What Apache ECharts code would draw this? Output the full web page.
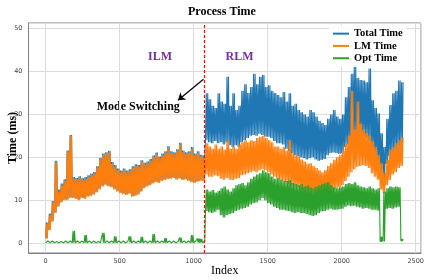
<!DOCTYPE html>
<html><head><meta charset="utf-8">
<script src="https://cdn.jsdelivr.net/npm/echarts@6/dist/echarts.min.js"></script>
<style>html,body{margin:0;padding:0;background:#fff}#c{width:429px;height:280px}</style>
</head><body><div id="c"></div>
<script>
// Values: low / high extent of each series in bins of 20 indices (index 0..2400)
const binStep = 20;
const seriesNames = ['Total Time', 'LM Time', 'Opt Time'];
const seriesColors = ['#1f77b4', '#ff7f0e', '#2ca02c'];

const totalLo = [1.2,3.2,5.2,7.2,8.7,9.7,10.2,10.2,10.7,10.7,10.5,10.2,10.7,10.5,11.0,11.2,11.5,12.0,12.7,13.4,13.7,13.4,13.2,12.7,12.2,11.8,11.6,11.4,11.7,11.0,11.2,11.5,12.2,13.0,13.4,13.7,14.1,14.4,14.2,14.7,14.9,15.1,15.2,15.4,15.0,15.2,14.9,15.0,14.7,14.4,14.2,14.5,14.7,14.7,
  24,23.5,23.3,23.8,23.3,23.5,23,23.5,22.8,22.4,22.8,22.4,23.5,24,24.5,25,25.2,25,25.5,25.2,24.8,24.8,24.5,23.8,23.3,23.3,23,22,21.5,21,20.5,20.3,20,19.8,19.5,19.8,20,19.5,19.2,19.4,19.6,20.5,21,21.1,21,20.8,21,22.4,23,23.5,24.5,25,25.6,25,24.5,23.8,22.4,21.1,19.4,17,15.2,18.5,20.3,21.1,21.8,22.4,23];
const totalHi = [4.8,6.9,9.8,19.2,12.5,13.9,14.9,21.6,25.2,15.4,15.2,15.6,15.1,15.4,15.8,16.2,16.6,17.9,19.9,20.9,21.2,21.5,18.9,18.2,17.4,16.9,17.4,16.9,17.2,17.9,18.4,18.2,19.3,18.7,19.0,19.6,20.4,21.1,20.2,20.9,21.4,22.6,21.4,21.2,21.9,23.4,21.6,21.2,21.4,22.4,20.9,21.4,20.6,20.4,
  34.9,33.5,32,31.5,34.9,33,32.5,38.8,32,34.9,31,32,35.5,37,35,36.4,39.5,37,38.8,39.2,36.4,36.8,35.5,35,34.5,34,35.2,33,34.9,32,32.5,31,30.5,30,29.5,31,30.5,29.5,28.5,28,27.5,29,30,31,29.5,29,30,34,36.4,39.5,41.5,38.5,38,37.9,37.5,40.7,33.3,31.5,30.2,25.6,22.4,29,32.2,34.9,35.5,37.9,37.5];
const lmLo = [1.0,3.0,5.0,7.0,8.5,9.5,10.0,10.0,10.5,10.5,10.3,10.0,10.5,10.3,10.8,11.0,11.3,11.8,12.5,13.2,13.5,13.2,13.0,12.5,12.0,11.6,11.4,11.2,11.5,10.8,11.0,11.3,12.0,12.8,13.2,13.5,13.9,14.2,14.0,14.5,14.7,14.9,15.0,15.2,14.8,15.0,14.7,14.8,14.5,14.2,14.0,14.3,14.5,14.5,
  16,15.5,15.5,15.8,15.6,15,14.8,15.2,14.8,14.7,15,15.2,15.8,16,16.3,16.5,16.8,16.5,17,17.2,17,16.5,16,15.5,15.2,14.8,14.5,14.2,13.8,13.5,13.2,13,12.5,12,11.8,11.6,11.5,11.2,11,10.9,11,11.6,12,12.4,12.8,13,13.5,14.5,15.5,16.5,17.2,17.8,18,18.2,18,17.5,16.3,15.5,14.8,12.5,11.6,13.5,14.7,16,16.5,17.5,18];
const lmHi = [4.5,6.5,9.5,18.8,12.0,13.5,14.5,21.3,24.9,15.0,14.8,15.2,14.7,15.0,15.4,15.8,16.2,17.5,19.5,20.5,20.8,21.1,18.5,17.8,17.0,16.5,17.0,16.5,16.8,17.5,18.0,17.8,18.9,18.3,18.6,19.2,20.0,20.7,19.8,20.5,21.0,22.1,21.0,20.8,21.5,23.0,21.2,20.8,21.0,21.9,20.5,21.0,20.2,20.0,
  23.3,22.5,22,23,22,22.5,21.8,24,22,22.5,22,23,23.5,24,23.5,24,23.8,24.5,24.8,25,24.5,24,23.5,22.5,22.5,22,22.4,21.5,24,21,20.5,20.3,19.5,19,18.5,18.6,18,17.5,17,16.5,17,18,18.6,19.4,20,20.5,21.5,23.3,25,35.5,26.5,33,27.8,26.5,25.6,25,23.8,22.4,20.5,18.6,16.3,19.4,21.8,22.4,23.3,24,24.7];
const optLo = [0.1,0.1,0.1,0.1,0.1,0.1,0.1,0.1,0.1,0.1,0.1,0.1,0.1,0.1,0.1,0.1,0.1,0.1,0.1,0.1,0.1,0.1,0.1,0.1,0.1,0.1,0.1,0.1,0.1,0.1,0.1,0.1,0.1,0.1,0.1,0.1,0.1,0.1,0.1,0.1,0.1,0.1,0.1,0.1,0.1,0.1,0.1,0.1,0.1,0.1,0.1,0.1,0.1,0.1,
  7.5,7.2,7.0,7.3,7.8,6.5,6.0,6.5,6.8,7.0,7.5,7.8,8.0,8.2,8.5,9.0,9.3,9.5,10,10.5,10,9.3,9.0,8.5,8.2,7.8,7.8,7.6,7.5,7.2,7.0,7.2,7.0,7.0,6.8,6.5,6.3,6.5,7.0,7.4,7.5,7.8,8.0,7.8,7.8,7.9,8.0,8.5,8.8,8.6,8.7,8.5,8.3,8.0,8.2,8.0,7.8,7.8,7.6,0.3,0.4,8.0,8.2,8.0,8.3,8.5,0.5];
const optHi = [0.5,0.4,0.5,0.4,0.5,0.4,0.5,0.4,0.5,2.9,0.5,0.4,0.5,1.9,0.5,0.4,0.5,0.4,0.5,2.4,0.5,0.4,0.5,1.6,0.5,0.4,0.5,0.4,1.6,0.5,0.4,0.5,1.5,0.5,0.4,0.5,2.1,0.5,0.4,0.5,1.2,0.5,0.4,0.5,0.4,1.3,0.5,0.4,0.5,1.9,0.5,1.1,1.0,0.5,
  12.5,12.0,12.4,11.8,12.2,12.8,13.2,12.5,12.0,12.8,13.5,13.8,14.0,13.5,14.2,15.0,15.5,16.0,16.3,17.0,16.5,16.3,15.5,15.0,15.2,14.8,14.5,14.5,14.7,14.0,13.8,13.5,13.8,13.2,13.4,13.0,12.8,13.2,13.5,13.8,14.0,14.2,13.5,13.0,12.8,13.0,13.2,13.8,14.0,13.8,14.2,13.5,13.2,13.0,12.8,13.2,12.8,12.5,12.8,1.5,12.0,12.8,13.2,13.0,13.2,13.0,1.0];

const switchIndex = 1070;
const arrowFrom = [1066, 38.2];
const arrowTo = [894, 33.3];

// each bin is drawn as a dense stroke swinging between its low and high extent
function build(lo, hi) {
  const out = [];
  const q = binStep / 4;
  for (let i = 0; i < lo.length; i++) {
    const x0 = i * binStep;
    out.push([x0, lo[i]], [x0 + q, hi[i]], [x0 + 2 * q, lo[i]], [x0 + 3 * q, hi[i]]);
  }
  return out;
}

const serif = 'Liberation Serif';
const chart = echarts.init(document.getElementById('c'), null, {renderer: 'canvas'});
const axisCommon = {
  axisLine: {show: true, onZero: false, lineStyle: {color: '#808080', width: 1}},
  axisTick: {show: false},
  splitLine: {show: true, lineStyle: {color: '#dcdcdc', width: 1}},
};
const lineStyleBase = {width: 1.1, join: 'bevel', cap: 'butt'};
chart.setOption({
  animation: false,
  backgroundColor: '#fff',
  title: {
    text: 'Process Time', left: 188, top: 6, padding: 0,
    textStyle: {fontFamily: serif, fontWeight: 'bold', fontSize: 12, color: '#000'}
  },
  legend: {
    data: seriesNames, orient: 'vertical', left: 329, top: 25,
    icon: 'rect', itemWidth: 16, itemHeight: 2, itemGap: 1,
    padding: [3, 4, 3, 4], backgroundColor: 'rgba(255,255,255,0.85)',
    textStyle: {fontFamily: serif, fontWeight: 'bold', fontSize: 10.5, color: '#000', lineHeight: 11.3}
  },
  grid: {left: 28.5, right: 8, top: 23, bottom: 27, show: true, borderColor: '#808080', borderWidth: 1,
         containLabel: false, outerBoundsMode: 'none'},
  xAxis: Object.assign({
    type: 'value', min: -116, max: 2536, splitNumber: 5,
    name: 'Index', nameLocation: 'middle', nameGap: 12, nameMoveOverlap: false,
    nameTextStyle: {fontFamily: serif, fontSize: 12, color: '#000'},
    axisLabel: {showMinLabel: false, showMaxLabel: false, fontFamily: 'DejaVu Sans', fontSize: 6.5, color: '#444', margin: 5,
                formatter: v => String(v)}
  }, axisCommon),
  yAxis: Object.assign({
    type: 'value', min: -2.3, max: 51.3, splitNumber: 5,
    name: 'Time (ms)', nameLocation: 'middle', nameGap: 10, nameMoveOverlap: false,
    nameTextStyle: {fontFamily: serif, fontWeight: 'bold', fontSize: 12, color: '#000'},
    axisLabel: {showMinLabel: false, showMaxLabel: false, fontFamily: 'DejaVu Sans', fontSize: 6.5, color: '#444', margin: 6,
                formatter: v => String(v)}
  }, axisCommon),
  series: [
    {name: seriesNames[0], type: 'line', data: build(totalLo, totalHi), showSymbol: false, symbol: 'none',
     color: seriesColors[0], lineStyle: lineStyleBase},
    {name: seriesNames[1], type: 'line', data: build(lmLo, lmHi), showSymbol: false, symbol: 'none',
     color: seriesColors[1], lineStyle: lineStyleBase,
     markLine: {silent: true, symbol: ['none', 'arrow'], symbolSize: 7, label: {show: false},
       lineStyle: {color: '#000', type: 'solid', width: 1.2},
       data: [[{coord: arrowFrom}, {coord: arrowTo}]]}},
    {name: seriesNames[2], type: 'line', data: build(optLo, optHi), showSymbol: false, symbol: 'none',
     color: seriesColors[2], lineStyle: lineStyleBase,
     markLine: {silent: true, symbol: 'none', label: {show: false},
       lineStyle: {color: '#ff0000', type: [3, 2], width: 1.2},
       data: [{xAxis: switchIndex}]}}
  ],
  graphic: [
    {type: 'text', x: 160, y: 57, style: {text: 'ILM', fill: '#7030a0', font: 'bold 12px "Liberation Serif"', textAlign: 'center', textVerticalAlign: 'middle'}},
    {type: 'text', x: 239.5, y: 57, style: {text: 'RLM', fill: '#7030a0', font: 'bold 12px "Liberation Serif"', textAlign: 'center', textVerticalAlign: 'middle'}},
    {type: 'text', x: 138.3, y: 106.5, style: {text: 'Mode Switching', fill: '#000', font: 'bold 12px "Liberation Serif"', textAlign: 'center', textVerticalAlign: 'middle'}}
  ]
});
</script></body></html>
